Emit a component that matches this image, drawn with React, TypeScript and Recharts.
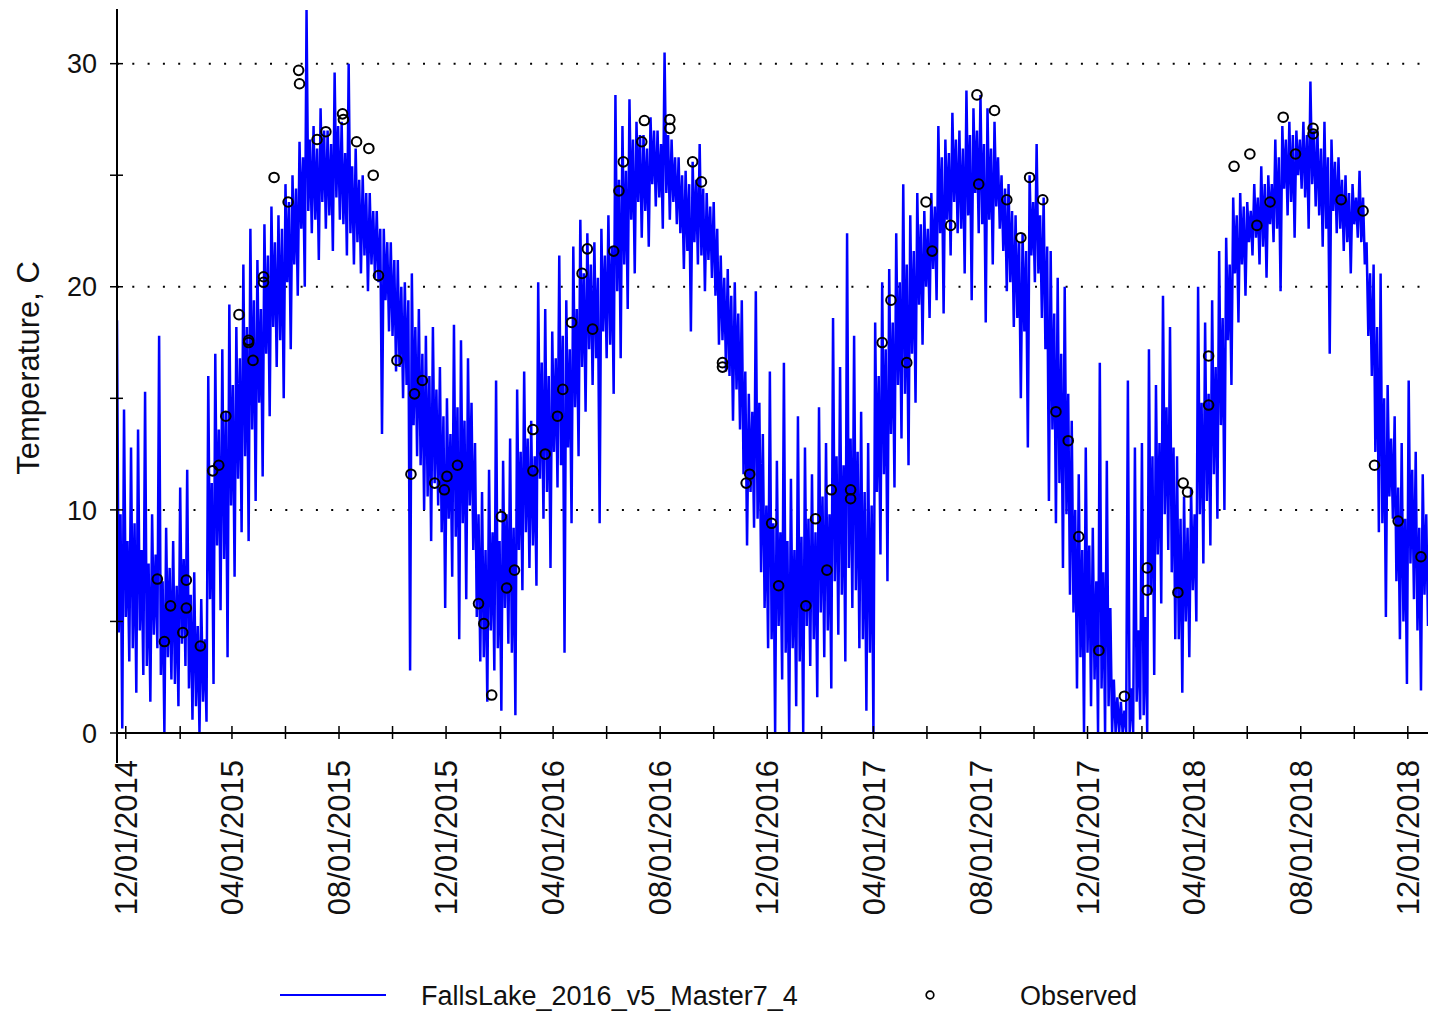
import { CartesianGrid, ComposedChart, Legend, Line, Scatter, XAxis, YAxis } from "recharts";

const FONT = '"Liberation Sans", Arial, sans-serif';

// simulated series: one value every 2 days from 2014-11-21
const simStart = "2014-11-21";
const simStepDays = 2;

const simA = [
  18.5, 4.5, 9.8, 0.2, 14.5, 5.2, 8.6, 3.2, 12.8, 3.8, 9.4, 1.8, 13.6, 4.6, 8.2, 2.6,
  15.3, 3.0, 7.6, 1.4, 9.8, 4.4, 8.0, 3.8, 17.8, 2.6, 6.8, 0.0, 9.2, 3.4, 7.4, 2.4,
  8.6, 2.2, 6.6, 1.2, 11.0, 4.0, 7.8, 3.0, 11.8, 2.0, 6.2, 0.6, 7.2, 1.2, 4.8, 0.0,
  6.0, 1.4, 4.2, 0.5, 16.0, 6.0, 11.2, 2.2, 17.0, 8.4, 13.6, 5.5, 17.2, 7.8, 14.4, 3.4,
  19.2, 10.2, 15.6, 7.0, 18.2, 11.4, 16.8, 9.0, 21.0, 12.4, 18.2, 8.6, 22.6, 13.6, 19.4, 10.4,
  21.2, 14.8, 19.0, 11.5, 22.8, 17.0, 21.4, 14.2, 23.6, 18.2, 22.0, 16.4, 23.2, 17.6, 22.6, 15.0,
  24.6, 20.2, 23.8, 17.2, 25.0, 21.0, 24.4, 19.6, 26.5, 22.6, 25.8, 20.0, 32.4, 23.4, 26.6, 22.4,
  27.2, 23.0, 26.2, 21.2, 28.0, 23.8, 27.0, 22.6, 27.0, 23.2, 26.4, 21.6, 29.6, 24.0, 27.2, 23.0,
  27.4, 22.8, 26.0, 21.4, 30.0, 22.4, 25.4, 21.0, 26.2, 22.0, 24.8, 20.6, 25.0, 21.4, 24.2, 19.8,
  24.2, 21.0, 23.4, 20.4, 23.4, 20.2, 22.6, 13.4, 22.6, 19.4, 22.0, 18.0, 22.0, 17.8, 21.2, 16.2,
  21.2, 16.4, 20.0, 15.0, 20.2, 15.6, 19.4, 2.8, 20.6, 13.8, 18.2, 12.4, 19.0, 12.0, 17.0, 10.0,
  17.8, 10.6, 16.0, 8.6, 18.2, 11.2, 15.4, 10.2,
];
const simB = [
  16.4, 9.0, 14.2, 5.6, 15.0, 9.6, 13.4, 7.0, 18.3, 8.8, 14.6, 4.2, 17.6, 9.4, 14.0, 6.0,
  16.8, 10.2, 14.8, 8.2, 13.0, 5.2, 9.8, 3.2, 10.8, 3.4, 8.2, 1.4, 11.8, 4.6, 9.0, 2.8,
  15.8, 3.8, 8.6, 1.0, 12.2, 5.6, 9.8, 4.0, 13.2, 3.6, 9.2, 0.8, 15.4, 8.2, 12.6, 6.4,
  16.2, 9.0, 13.2, 7.4, 14.0, 8.4, 12.4, 6.6, 20.2, 11.4, 16.6, 9.6, 19.0, 10.8, 16.0, 7.4,
  18.0, 12.6, 16.8, 11.0, 21.4, 12.0, 17.8, 3.6, 19.4, 12.8, 17.2, 9.4, 21.8, 14.6, 19.0, 12.4,
  23.0, 16.4, 20.6, 14.4, 22.4, 17.2, 21.0, 15.6, 22.0, 16.8, 20.4, 9.4, 22.6, 18.0, 21.4, 16.8,
  23.2, 17.4, 21.8, 15.2, 28.6, 19.8, 24.8, 16.8, 27.2, 21.0, 25.2, 19.0, 28.4, 23.0, 26.6, 20.6,
  27.4, 23.8, 26.8, 22.2, 26.8, 23.4, 26.2, 21.8, 27.6, 24.6, 27.0, 23.6, 27.0, 24.0, 26.4, 22.6,
  30.5, 24.2, 26.8, 23.0, 26.6, 23.8, 25.8, 22.8, 25.8, 22.4, 25.0, 20.8, 25.2, 21.6, 24.6, 18.0,
  25.6, 22.0, 24.8, 21.0, 26.4, 21.4, 24.4, 19.8, 24.2, 21.2, 23.6, 20.4, 23.8, 19.6, 22.6, 17.4,
  21.4, 17.6, 20.4, 16.2, 20.8, 16.0, 19.6, 14.0, 20.2, 15.4, 18.8, 13.6, 19.4, 11.6, 16.2, 8.4,
  15.2, 10.8, 14.4, 9.2, 19.8, 9.6, 14.8, 7.2,
];
const simC = [
  13.4, 5.6, 10.2, 3.8, 16.2, 4.2, 9.4, 0.0, 12.2, 4.8, 9.0, 2.4, 16.6, 3.6, 8.6, 0.0,
  11.4, 3.8, 8.2, 1.2, 14.2, 3.2, 8.8, 0.0, 12.8, 4.8, 9.6, 3.0, 11.6, 4.2, 9.0, 1.6,
  14.6, 5.4, 10.6, 3.4, 13.0, 4.6, 9.8, 2.0, 18.6, 6.8, 12.4, 4.4, 16.4, 6.2, 12.0, 3.2,
  22.4, 7.4, 13.2, 5.6, 17.8, 6.4, 12.6, 3.8, 14.4, 4.2, 10.8, 1.0, 13.0, 3.6, 10.2, 0.0,
  18.4, 10.8, 16.0, 8.0, 20.2, 11.6, 17.2, 6.8, 20.8, 13.4, 18.4, 11.0, 22.4, 15.6, 20.2, 13.2,
  24.6, 15.2, 21.0, 12.0, 23.2, 17.0, 21.6, 14.8, 24.2, 19.2, 22.8, 17.4, 23.4, 20.0, 22.6, 18.6,
  24.2, 20.8, 23.6, 19.4, 27.2, 22.4, 25.8, 18.8, 26.6, 23.0, 26.0, 21.4, 27.8, 23.8, 26.6, 22.4,
  27.0, 22.6, 26.2, 20.6, 28.8, 23.2, 26.8, 19.4, 28.0, 24.2, 27.0, 22.4, 28.6, 22.8, 26.4, 18.4,
  28.0, 23.0, 26.2, 21.0, 27.4, 23.6, 25.8, 22.6, 25.0, 21.6, 24.4, 19.8, 24.6, 20.2, 23.4, 18.2,
  23.2, 18.6, 22.0, 15.0, 22.4, 18.0, 21.6, 12.8, 25.0, 21.4, 23.8, 20.2, 26.4, 20.6, 23.2, 18.6,
  24.0, 17.2, 21.8, 10.4, 21.6, 13.6, 18.8, 9.4, 20.4, 11.2, 17.0, 7.4, 20.0, 9.8, 15.2, 6.2,
  14.0, 5.4, 10.0, 2.0, 11.6, 3.4, 8.2, 0.0,
];
const simD = [
  12.8, 3.6, 8.4, 1.2, 9.2, 2.4, 6.8, 0.0, 16.6, 2.0, 7.2, 0.0, 12.2, 1.2, 5.6, 0.0,
  2.4, 0.0, 1.6, 0.0, 1.4, 0.0, 1.0, 0.0, 15.8, 0.0, 2.0, 0.0, 12.8, 1.4, 4.6, 0.6,
  13.0, 0.8, 5.2, 0.0, 17.2, 6.2, 12.4, 2.6, 15.6, 8.0, 13.0, 5.8, 19.6, 9.8, 14.6, 8.2,
  18.2, 7.2, 12.8, 4.2, 12.4, 4.2, 9.6, 1.8, 10.6, 5.0, 9.2, 3.4, 11.0, 6.4, 9.8, 5.0,
  20.0, 9.8, 14.8, 7.6, 18.4, 10.4, 15.2, 8.4, 19.4, 11.6, 16.4, 9.6, 21.6, 13.8, 18.6, 10.0,
  22.2, 17.6, 21.0, 15.6, 24.0, 20.6, 23.2, 18.4, 24.2, 21.0, 23.6, 19.6, 23.8, 22.0, 23.4, 21.4,
  24.6, 22.2, 24.0, 21.0, 25.4, 21.8, 24.6, 20.4, 25.0, 22.8, 24.6, 22.0, 26.6, 22.6, 25.8, 19.8,
  27.2, 24.4, 26.6, 23.2, 27.4, 23.8, 26.8, 22.2, 27.0, 25.0, 26.6, 24.4, 27.4, 24.0, 26.8, 22.6,
  29.2, 24.6, 27.0, 23.6, 27.0, 23.2, 26.2, 21.8, 27.4, 22.6, 25.8, 17.0, 26.6, 23.4, 25.6, 22.4,
  25.8, 22.6, 24.8, 21.6, 25.0, 22.0, 24.2, 20.6, 24.6, 22.8, 24.0, 22.2, 25.2, 22.0, 24.0, 21.0,
  22.0, 17.8, 20.6, 16.0, 21.0, 12.6, 18.2, 9.0, 20.6, 9.4, 15.0, 5.2, 15.6, 10.6, 13.2, 9.6,
  14.2, 6.8, 11.0, 4.2, 13.0, 5.0, 9.6, 2.2, 15.8, 7.6, 11.8, 6.0, 12.6, 4.6, 9.2, 1.9,
  11.6, 6.2, 9.8, 4.8,
];

const obsDates = [
  "2015-01-06", "2015-01-14", "2015-01-21", "2015-02-04", "2015-02-08", "2015-02-08", "2015-02-24",
  "2015-03-10", "2015-03-17", "2015-03-25", "2015-04-09", "2015-04-20", "2015-04-20", "2015-04-25",
  "2015-05-07", "2015-05-07", "2015-05-19", "2015-06-04", "2015-06-16", "2015-06-17", "2015-07-07",
  "2015-07-17", "2015-08-05", "2015-08-06", "2015-08-21", "2015-09-04", "2015-09-09", "2015-09-15",
  "2015-10-06", "2015-10-22", "2015-10-26", "2015-11-04", "2015-11-18", "2015-11-29", "2015-12-02",
  "2015-12-14", "2016-01-07", "2016-01-13", "2016-01-22", "2016-02-02", "2016-02-08", "2016-02-17",
  "2016-03-09", "2016-03-09", "2016-03-23", "2016-04-06", "2016-04-12", "2016-04-22", "2016-05-04",
  "2016-05-10", "2016-05-16", "2016-06-09", "2016-06-15", "2016-06-20", "2016-07-11", "2016-07-14",
  "2016-08-12", "2016-08-12", "2016-09-07", "2016-09-17", "2016-10-11", "2016-10-11", "2016-11-07",
  "2016-11-11", "2016-12-06", "2016-12-14", "2017-01-14", "2017-01-25", "2017-02-07", "2017-02-12",
  "2017-03-06", "2017-03-06", "2017-04-11", "2017-04-21", "2017-05-09", "2017-05-31", "2017-06-07",
  "2017-06-28", "2017-07-28", "2017-07-30", "2017-08-17", "2017-08-31", "2017-09-16", "2017-09-26",
  "2017-10-11", "2017-10-26", "2017-11-09", "2017-11-21", "2017-12-14", "2018-01-12", "2018-02-07",
  "2018-02-07", "2018-03-14", "2018-03-20", "2018-03-25", "2018-04-18", "2018-04-18", "2018-05-17",
  "2018-06-04", "2018-06-12", "2018-06-27", "2018-07-12", "2018-07-26", "2018-08-15", "2018-08-15",
  "2018-09-16", "2018-10-11", "2018-10-24", "2018-11-20", "2018-12-16",
];
const obsTemps = [
  6.9, 4.1, 5.7, 4.5, 6.85, 5.6, 3.9,
  11.75, 12.0, 14.2, 18.75, 17.5, 17.6, 16.7,
  20.45, 20.2, 24.9, 23.8, 29.7, 29.1, 26.6,
  26.95, 27.75, 27.5, 26.5, 26.2, 25.0, 20.5,
  16.7, 11.6, 15.2, 15.8, 11.2, 10.9, 11.5,
  12.0, 5.8, 4.9, 1.7, 9.7, 6.5, 7.3,
  11.75, 13.6, 12.5, 14.2, 15.4, 18.4, 20.6,
  21.7, 18.1, 21.6, 24.3, 25.6, 26.5, 27.45,
  27.5, 27.1, 25.6, 24.7, 16.6, 16.4, 11.2,
  11.6, 9.4, 6.6, 5.7, 9.6, 7.3, 10.9,
  10.9, 10.5, 17.5, 19.4, 16.6, 23.8, 21.6,
  22.75, 28.6, 24.6, 27.9, 23.9, 22.2, 24.9,
  23.9, 14.4, 13.1, 8.8, 3.7, 1.65, 7.4,
  6.4, 6.3, 11.2, 10.8, 16.9, 14.7, 25.4,
  25.95, 22.75, 23.8, 27.6, 25.95, 27.1, 26.85,
  23.9, 23.4, 12.0, 9.5, 7.9,
];

const xTickDates = [
  "2014-12-01", "2015-02-01", "2015-04-01", "2015-06-01", "2015-08-01", "2015-10-01",
  "2015-12-01", "2016-02-01", "2016-04-01", "2016-06-01", "2016-08-01", "2016-10-01",
  "2016-12-01", "2017-02-01", "2017-04-01", "2017-06-01", "2017-08-01", "2017-10-01",
  "2017-12-01", "2018-02-01", "2018-04-01", "2018-06-01", "2018-08-01", "2018-10-01",
  "2018-12-01",
];
const labelledMonths = ["12", "04", "08"];
const yTicks = [0, 5, 10, 15, 20, 25, 30];
const gridValues = [10, 20, 30];

const DAY_MS = 86400000;
const DAY0 = Date.parse("2014-12-01T00:00:00Z");
const toDay = (s: string) => Math.round((Date.parse(s + "T00:00:00Z") - DAY0) / DAY_MS);

const simValues = [...simA, ...simB, ...simC, ...simD];
const simData = simValues.map((temp, i) => ({ day: toDay(simStart) + i * simStepDays, temp }));
const obsData = obsDates.map((d, i) => ({ day: toDay(d), temp: obsTemps[i] }));

const xTicks = xTickDates.map(toDay);
const xLabels = new Map(
  xTickDates.map((s) => [
    toDay(s),
    labelledMonths.includes(s.slice(5, 7)) ? `${s.slice(5, 7)}/${s.slice(8, 10)}/${s.slice(0, 4)}` : "",
  ])
);

function XTick({ x, y, payload }: any) {
  const label = xLabels.get(payload.value);
  return (
    <g>
      <line x1={x} x2={x} y1={y - 7} y2={y + 6} stroke="#000" strokeWidth={1.5} />
      {label ? (
        <text
          transform={`translate(${x},${y + 27}) rotate(-90)`}
          textAnchor="end"
          dy="0.36em"
          fontFamily={FONT}
          fontSize={31}
          fill="#111"
        >
          {label}
        </text>
      ) : null}
    </g>
  );
}

function YTick({ x, y, payload }: any) {
  const v = payload.value;
  return (
    <g>
      <line x1={x - 7} x2={x + 6} y1={y} y2={y} stroke="#000" strokeWidth={1.5} />
      {v === 0 ? <line x1={x} x2={x} y1={y} y2={y + 30} stroke="#000" strokeWidth={2} /> : null}
      {v % 10 === 0 ? (
        <text x={x - 20} y={y} dy="0.36em" textAnchor="end" fontFamily={FONT} fontSize={27} fill="#111">
          {v}
        </text>
      ) : null}
    </g>
  );
}

function ObsMarker({ cx, cy }: any) {
  return <circle cx={cx} cy={cy} r={4.8} stroke="#000" strokeWidth={2} fill="none" />;
}

const legendLeft = [280, 930];

function LegendContent({ payload }: any) {
  return (
    <div style={{ position: "relative", height: 40, fontFamily: FONT, fontSize: 27, color: "#111" }}>
      {(payload || []).map((entry: any, i: number) => {
        const left = legendLeft[i];
        return (
          <div key={entry.value}>
            {i === 0 ? (
              <svg style={{ position: "absolute", left, top: 21 }} width={106} height={4}>
                <line x1={0} x2={106} y1={2} y2={2} stroke={entry.color} strokeWidth={2} />
              </svg>
            ) : (
              <svg style={{ position: "absolute", left: left - 6, top: 17 }} width={12} height={12}>
                <circle cx={6} cy={6} r={3.8} stroke="#000" strokeWidth={1.7} fill="none" />
              </svg>
            )}
            <span
              style={{
                position: "absolute",
                left: i === 0 ? 421 : 1020,
                top: 9,
                lineHeight: "30px",
                whiteSpace: "nowrap",
              }}
            >
              {entry.value}
            </span>
          </div>
        );
      })}
    </div>
  );
}

function YTitle({ viewBox, value }: any) {
  const cx = viewBox.x + 28;
  const cy = viewBox.y + viewBox.height / 2 - 3;
  return (
    <text
      transform={`translate(${cx},${cy}) rotate(-90)`}
      textAnchor="middle"
      dy="0.36em"
      fontFamily={FONT}
      fontSize={31}
      fill="#111"
    >
      {value}
    </text>
  );
}

export default function App() {
  return (
    <div style={{ position: "absolute", left: 0, top: 0, width: 1429, height: 1012, background: "#fff" }}>
      <ComposedChart width={1429} height={1012} margin={{ top: 9, right: 1, bottom: 0, left: 0 }}>
        <CartesianGrid
          horizontal
          vertical={false}
          horizontalValues={gridValues}
          stroke="#000"
          strokeWidth={2}
          strokeDasharray="2 13.3"
        />
        <XAxis
          type="number"
          dataKey="day"
          domain={[-10, 1484]}
          allowDataOverflow
          ticks={xTicks}
          interval={0}
          tickSize={0}
          tickMargin={0}
          tickLine={false}
          height={239}
          tick={<XTick />}
          axisLine={{ stroke: "#000", strokeWidth: 2 }}
        />
        <YAxis
          type="number"
          domain={[0, 32.45]}
          allowDataOverflow
          ticks={yTicks}
          interval={0}
          width={117}
          tickSize={0}
          tickMargin={0}
          tickLine={false}
          tick={<YTick />}
          axisLine={{ stroke: "#000", strokeWidth: 2 }}
          label={{ value: "Temperature, C", content: <YTitle /> }}
        />
        <Line
          data={simData}
          dataKey="temp"
          name="FallsLake_2016_v5_Master7_4"
          type="linear"
          stroke="#0000ff"
          strokeWidth={2.5}
          dot={false}
          activeDot={false}
          isAnimationActive={false}
        />
        <Scatter
          data={obsData}
          dataKey="temp"
          name="Observed"
          fill="#000"
          shape={<ObsMarker />}
          isAnimationActive={false}
        />
        <Legend
          verticalAlign="bottom"
          content={<LegendContent />}
          wrapperStyle={{ left: 0, width: 1429, height: 40 }}
        />
      </ComposedChart>
    </div>
  );
}
